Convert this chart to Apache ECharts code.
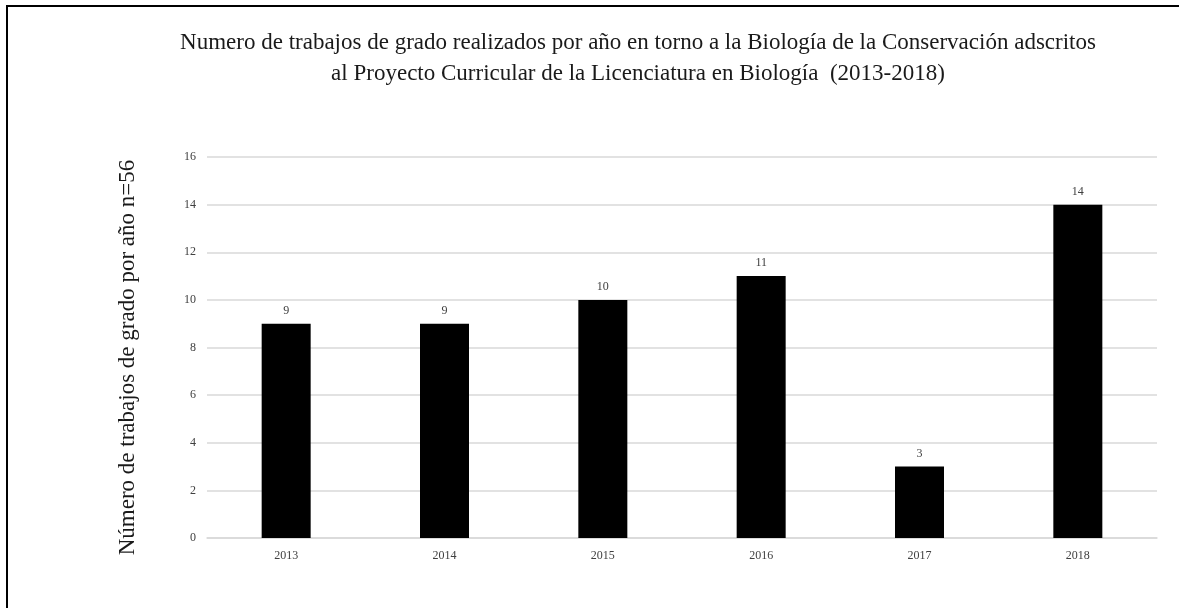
<!DOCTYPE html>
<html>
<head>
<meta charset="utf-8">
<script src="https://cdn.jsdelivr.net/npm/echarts@6/dist/echarts.min.js"></script>
<style>
  html, body { margin: 0; padding: 0; background: #fff; }
  #chart { width: 1179px; height: 608px; }
</style>
</head>
<body>
<div id="chart"></div>
<script>
// datos
const years = ['2013', '2014', '2015', '2016', '2017', '2018'];
const trabajos = [9, 9, 10, 11, 3, 14];
const yTicks = { min: 0, max: 16, interval: 2 };

const titleLines = [
  'Numero de trabajos de grado realizados por año en torno a la Biología de la Conservación adscritos',
  'al Proyecto Curricular de la Licenciatura en Biología  (2013-2018)'
];
const yName = 'Número de trabajos de grado por año n=56';

const serif = '"Liberation Serif", "DejaVu Serif", serif';

const myChart = echarts.init(document.getElementById('chart'));

const option = {
  backgroundColor: '#fff',
  animation: false,
  title: {
    text: titleLines.join('\n'),
    left: 633,
    top: 22,
    textAlign: 'center',
    textStyle: {
      fontFamily: serif,
      fontSize: 23,
      fontWeight: 'normal',
      color: '#1a1a1a',
      lineHeight: 31,
    },
  },
  // marco superior e izquierdo
  graphic: [
    { type: 'line', shape: { x1: 6, y1: 6, x2: 1179, y2: 6 }, style: { stroke: '#000', lineWidth: 2 } },
    { type: 'line', shape: { x1: 7, y1: 5, x2: 7, y2: 608 }, style: { stroke: '#000', lineWidth: 2 } },
  ],
  grid: {
    left: 207,
    right: 22,
    top: 157,
    bottom: 70,
  },
  xAxis: {
    type: 'category',
    data: years,
    axisTick: { show: false },
    axisLine: { show: true, lineStyle: { color: '#d9d9d9', width: 1.5 } },
    axisLabel: {
      fontFamily: serif,
      fontSize: 12,
      color: '#404040',
      margin: 12,
    },
  },
  yAxis: {
    type: 'value',
    min: yTicks.min,
    max: yTicks.max,
    interval: yTicks.interval,
    name: yName,
    nameLocation: 'middle',
    nameGap: 68,
    nameTextStyle: {
      fontFamily: serif,
      fontSize: 23,
      color: '#1a1a1a',
      padding: [0, 20, 0, 0],
    },
    axisLine: { show: false },
    axisTick: { show: false },
    axisLabel: {
      fontFamily: serif,
      fontSize: 12,
      color: '#404040',
      margin: 11,
    },
    splitLine: { lineStyle: { color: '#d9d9d9', width: 1.5 } },
  },
  series: [
    {
      type: 'bar',
      data: trabajos,
      barWidth: 49,
      itemStyle: { color: '#000' },
      label: {
        show: true,
        position: 'top',
        distance: 7,
        fontFamily: serif,
        fontSize: 12,
        color: '#404040',
      },
    },
  ],
};

myChart.setOption(option);
</script>
</body>
</html>
